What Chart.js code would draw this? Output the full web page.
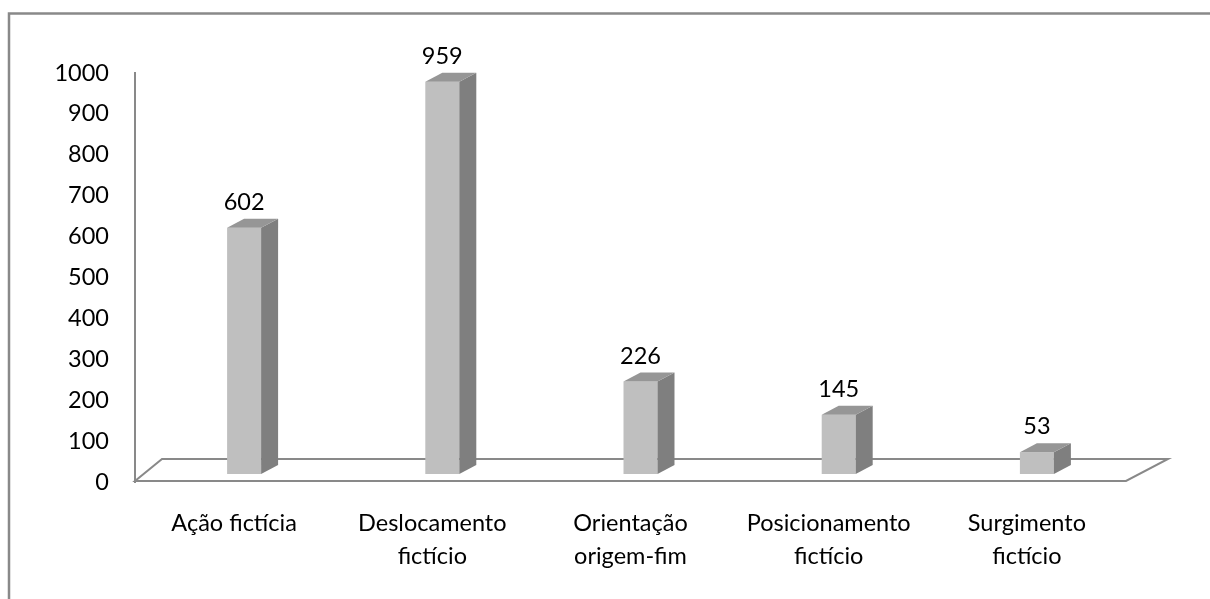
<!DOCTYPE html>
<html>
<head>
<meta charset="utf-8">
<script src="https://cdn.jsdelivr.net/npm/chart.js@4/dist/chart.umd.min.js"></script>
<style>
  html, body { margin: 0; padding: 0; background: #ffffff; }
  canvas { display: block; }
</style>
</head>
<body>
<canvas id="chart" width="1210" height="599"></canvas>
<script>
// Categories (multi-line labels as arrays) and their counts
const categories = [
  ['Ação fictícia'],
  ['Deslocamento', 'fictício'],
  ['Orientação', 'origem-fim'],
  ['Posicionamento', 'fictício'],
  ['Surgimento', 'fictício']
];
const counts = [602, 959, 226, 145, 53];
const yMin = 0;
const yMax = 1000;
const yStep = 100;

// Styling of the pseudo-3D look
const FONT = { family: 'Lato, "Liberation Sans", sans-serif', size: 23.5 };
const FRONT_COLOR = '#BFBFBF';
const SIDE_COLOR = '#7F7F7F';
const TOP_COLOR = '#969696';
const LINE_COLOR = '#898989';
const BAR_SHIFT_X = 10;   // bars stand a little behind the front edge of the floor
const BAR_SHIFT_Y = 8;
const SIDE_DX = 17;       // depth of each bar
const SIDE_DY = 9;
const FLOOR_DY = 22;      // depth of the floor
const FLOOR_SKEW_L = 27;
const FLOOR_SKEW_R = 42;

const depthPlugin = {
  id: 'depth3d',
  beforeDraw(chart) {
    const ctx = chart.ctx;
    ctx.save();
    ctx.fillStyle = '#ffffff';
    ctx.fillRect(0, 0, chart.width, chart.height);
    // outer frame (runs off the right and bottom edges)
    ctx.strokeStyle = LINE_COLOR;
    ctx.lineWidth = 2.5;
    ctx.beginPath();
    ctx.moveTo(9, chart.height + 5);
    ctx.lineTo(9, 13.5);
    ctx.lineTo(chart.width + 5, 13.5);
    ctx.stroke();
    ctx.restore();
  },
  beforeDatasetsDraw(chart) {
    const ctx = chart.ctx;
    const a = chart.chartArea;
    const yb = a.bottom - 1;
    // floor outline
    ctx.save();
    ctx.strokeStyle = LINE_COLOR;
    ctx.lineWidth = 2;
    ctx.beginPath();
    ctx.moveTo(a.left, yb);
    ctx.lineTo(a.right, yb);
    ctx.lineTo(a.right + FLOOR_SKEW_R, yb - FLOOR_DY);
    ctx.lineTo(a.left + FLOOR_SKEW_L, yb - FLOOR_DY);
    ctx.closePath();
    ctx.stroke();
    ctx.restore();
    // bars are drawn slightly behind the front plane
    ctx.save();
    ctx.translate(BAR_SHIFT_X, -BAR_SHIFT_Y);
  },
  afterDatasetsDraw(chart) {
    const ctx = chart.ctx;
    const meta = chart.getDatasetMeta(0);
    meta.data.forEach((bar) => {
      const { x, y, base, width } = bar.getProps(['x', 'y', 'base', 'width'], true);
      const l = x - width / 2;
      const r = x + width / 2;
      // side face
      ctx.fillStyle = SIDE_COLOR;
      ctx.beginPath();
      ctx.moveTo(r, y);
      ctx.lineTo(r + SIDE_DX, y - SIDE_DY);
      ctx.lineTo(r + SIDE_DX, base - SIDE_DY);
      ctx.lineTo(r, base);
      ctx.closePath();
      ctx.fill();
      // top face
      ctx.fillStyle = TOP_COLOR;
      ctx.beginPath();
      ctx.moveTo(l, y);
      ctx.lineTo(l + SIDE_DX, y - SIDE_DY);
      ctx.lineTo(r + SIDE_DX, y - SIDE_DY);
      ctx.lineTo(r, y);
      ctx.closePath();
      ctx.fill();
    });
    ctx.restore();
    // value labels above each bar
    ctx.save();
    ctx.fillStyle = '#000000';
    ctx.font = `${FONT.size}px ${FONT.family}`;
    ctx.textAlign = 'center';
    ctx.textBaseline = 'alphabetic';
    const values = chart.data.datasets[0].data;
    meta.data.forEach((bar, i) => {
      const { x, y } = bar.getProps(['x', 'y'], true);
      ctx.fillText(String(values[i]), x + BAR_SHIFT_X, y - BAR_SHIFT_Y - 18);
    });
    ctx.restore();
  }
};

new Chart(document.getElementById('chart'), {
  type: 'bar',
  data: {
    labels: categories,
    datasets: [{
      data: counts,
      backgroundColor: FRONT_COLOR,
      borderWidth: 0,
      categoryPercentage: 1,
      barPercentage: 0.1715
    }]
  },
  options: {
    responsive: false,
    animation: false,
    events: [],
    layout: { padding: { top: 73, right: 84, left: 0, bottom: 0 } },
    plugins: {
      legend: { display: false },
      tooltip: { enabled: false },
      title: { display: false }
    },
    scales: {
      x: {
        type: 'category',
        grid: { display: false, drawTicks: false },
        border: { display: false },
        ticks: {
          color: '#000000',
          font: { family: FONT.family, size: FONT.size, lineHeight: 1.404 },
          padding: 25,
          maxRotation: 0,
          autoSkip: false
        },
        afterFit(scale) { scale.height = 117; }
      },
      y: {
        min: yMin,
        max: yMax,
        grid: { display: false, drawTicks: false },
        border: { display: true, color: LINE_COLOR, width: 2 },
        ticks: {
          stepSize: yStep,
          color: '#000000',
          font: { family: FONT.family, size: FONT.size },
          padding: 26,
          callback: (value) => String(value)
        },
        afterFit(scale) { scale.width = 135; }
      }
    }
  },
  plugins: [depthPlugin]
});
</script>
</body>
</html>
